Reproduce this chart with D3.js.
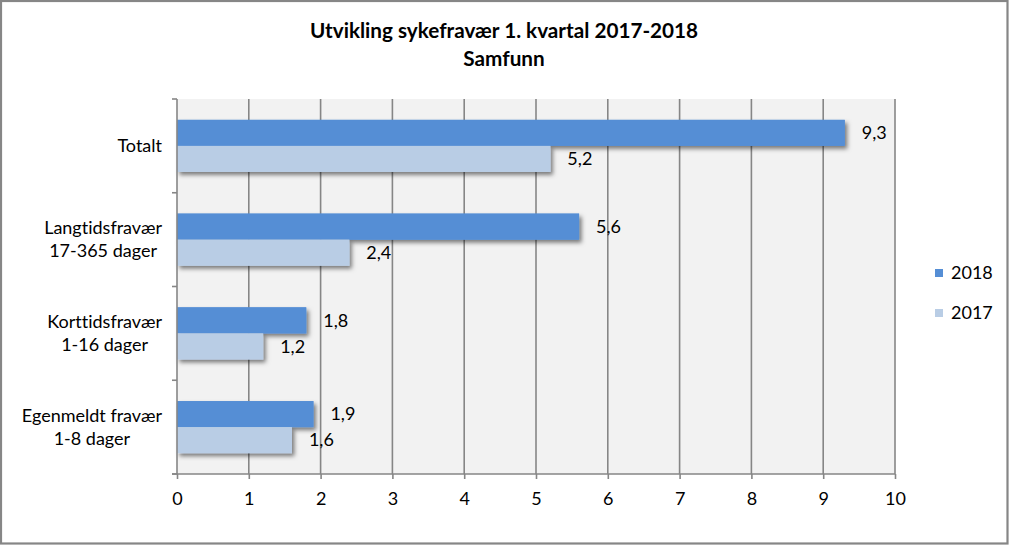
<!DOCTYPE html>
<html>
<head>
<meta charset="utf-8">
<script src="https://cdn.jsdelivr.net/npm/d3@7"></script>
<style>
  html, body { margin: 0; padding: 0; background: #fff; }
  svg { display: block; font-family: Lato, sans-serif; font-variant-ligatures: none; font-feature-settings: "liga" 0, "clig" 0, "dlig" 0; }
  svg text, svg tspan { font-variant-ligatures: none; font-feature-settings: "liga" 0, "clig" 0, "dlig" 0; }
</style>
</head>
<body>
<svg id="chart" width="1009" height="545"></svg>
<script>
// ---- data ----
const categories = [
  ["Totalt"],
  ["Langtidsfravær", "17-365 dager"],
  ["Korttidsfravær", "1-16 dager"],
  ["Egenmeldt fravær", "1-8 dager"]
];
const seriesNames = ["2018", "2017"];
const values2018 = [9.3, 5.6, 1.8, 1.9];
const values2017 = [5.2, 2.4, 1.2, 1.6];
const xTicks = [0, 1, 2, 3, 4, 5, 6, 7, 8, 9, 10];
const titleLines = ["Utvikling sykefravær 1. kvartal 2017-2018", "Samfunn"];

const colors = { "2018": "#558ED5", "2017": "#B9CDE5" };
const seriesValues = { "2018": values2018, "2017": values2017 };

const FONT = "Lato, sans-serif";
const FS = 18;
const svg = d3.select("#chart");
const W = 1009, H = 545;
const plot = { left: 177, right: 895, top: 99, bottom: 474 };

// outer border
svg.append("rect").attr("x", 1).attr("y", 1).attr("width", W - 2.5).attr("height", H - 2.5)
  .attr("fill", "#fff").attr("stroke", "#868686").attr("stroke-width", 2.2);

// shadow filter
const defs = svg.append("defs");
const f = defs.append("filter").attr("id", "shadow").attr("x", "-10%").attr("y", "-30%").attr("width", "130%").attr("height", "180%");
f.append("feDropShadow").attr("dx", 2.5).attr("dy", 3).attr("stdDeviation", 2)
  .attr("flood-color", "#000").attr("flood-opacity", 0.5);

// title
const title = svg.append("text").attr("text-anchor", "middle").attr("font-weight", "bold")
  .attr("font-size", 20.7).attr("fill", "#000");
title.selectAll("tspan").data(titleLines).join("tspan")
  .attr("x", 504).attr("y", (d, i) => 38 + i * 28).text(d => d);

// scales
const x = d3.scaleLinear().domain([0, 10]).range([plot.left, plot.right]);
const catKeys = categories.map((c, i) => i);
const y = d3.scaleBand().domain(catKeys).range([plot.top, plot.bottom])
  .paddingInner(0.445).paddingOuter(0.2225);
const ySub = d3.scaleBand().domain(seriesNames).range([0, y.bandwidth()]);

// plot background
svg.append("rect").attr("x", plot.left).attr("y", plot.top)
  .attr("width", plot.right - plot.left).attr("height", plot.bottom - plot.top)
  .attr("fill", "#F2F2F2");

// gridlines
svg.append("g").selectAll("line").data(xTicks.filter(t => t > 0)).join("line")
  .attr("x1", d => x(d)).attr("x2", d => x(d))
  .attr("y1", plot.top).attr("y2", plot.bottom)
  .attr("stroke", "#868686").attr("stroke-width", 1.6);

// bars
const groups = svg.append("g").selectAll("g").data(catKeys).join("g")
  .attr("transform", d => `translate(0,${y(d)})`);
groups.selectAll("rect.sh").data(i => seriesNames.map(s => ({ s, v: seriesValues[s][i] })))
  .join("rect").attr("class", "sh")
  .attr("x", x(0)).attr("y", d => ySub(d.s))
  .attr("width", d => x(d.v) - x(0)).attr("height", ySub.bandwidth())
  .attr("fill", d => colors[d.s]).attr("filter", "url(#shadow)");
groups.selectAll("rect.top").data(i => seriesNames.map(s => ({ s, v: seriesValues[s][i] })))
  .join("rect").attr("class", "top")
  .attr("x", x(0)).attr("y", d => ySub(d.s))
  .attr("width", d => x(d.v) - x(0)).attr("height", ySub.bandwidth())
  .attr("fill", d => colors[d.s]);

// data labels
groups.selectAll("text").data(i => seriesNames.map(s => ({ s, v: seriesValues[s][i] })))
  .join("text")
  .attr("x", d => x(d.v) + 17).attr("y", d => ySub(d.s) + ySub.bandwidth() / 2)
  .attr("dy", "0.35em").attr("font-size", FS).attr("fill", "#000")
  .text(d => d3.format(".1f")(d.v).replace(".", ","));

// left axis
const yEdges = d3.range(categories.length + 1).map(i => plot.top + i * y.step());
svg.append("line").attr("x1", plot.left).attr("x2", plot.left)
  .attr("y1", plot.top).attr("y2", plot.bottom).attr("stroke", "#868686").attr("stroke-width", 1.6);
svg.append("g").selectAll("line").data(yEdges).join("line")
  .attr("x1", plot.left - 5).attr("x2", plot.left).attr("y1", d => d).attr("y2", d => d)
  .attr("stroke", "#868686").attr("stroke-width", 1.6);

// bottom axis
const xAxis = d3.axisBottom(x).tickValues(xTicks).tickSize(5).tickPadding(13).tickFormat(d3.format("d"));
const gx = svg.append("g").attr("transform", `translate(0,${plot.bottom})`).call(xAxis);
gx.select(".domain").attr("stroke", "#868686").attr("stroke-width", 1.6)
  .attr("d", `M${plot.left - 5},0H${plot.right}`);
gx.selectAll(".tick line").attr("stroke", "#868686").attr("stroke-width", 1.6);
gx.selectAll(".tick text").attr("font-size", FS).attr("fill", "#000").attr("font-family", FONT);

// category labels
const labelRight = 162;
categories.forEach((lines, i) => {
  const cy = y(i) + y.bandwidth() / 2;
  const g = svg.append("text").attr("font-size", FS).attr("fill", "#000").attr("text-anchor", "middle");
  const tsp = g.selectAll("tspan").data(lines).join("tspan").text(d => d);
  let maxW = 0;
  tsp.each(function () { maxW = Math.max(maxW, this.getComputedTextLength()); });
  const cx = labelRight - maxW / 2;
  const lh = 23;
  tsp.attr("x", cx).attr("y", (d, j) => cy + (j - (lines.length - 1) / 2) * lh).attr("dy", "0.35em");
});

// legend
const legend = svg.append("g").selectAll("g").data(seriesNames).join("g")
  .attr("transform", (d, i) => `translate(935,${273 + i * 40})`);
legend.append("rect").attr("x", 0).attr("y", -4).attr("width", 8).attr("height", 8)
  .attr("fill", d => colors[d]);
legend.append("text").attr("x", 16).attr("dy", "0.35em").attr("font-size", FS).attr("fill", "#000").text(d => d);
</script>
</body>
</html>
